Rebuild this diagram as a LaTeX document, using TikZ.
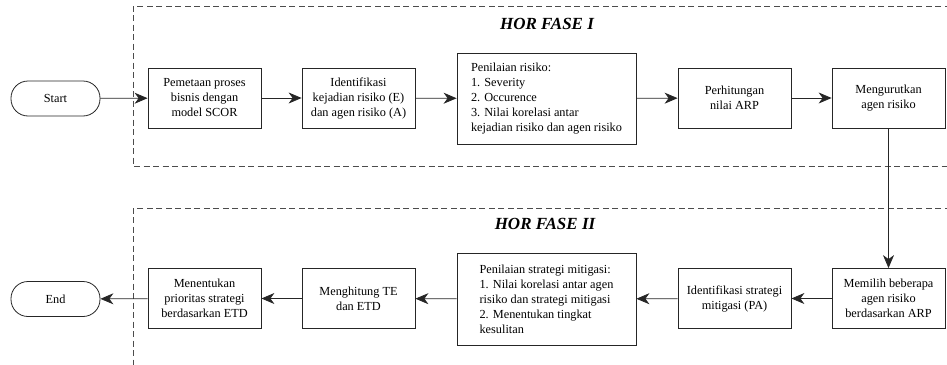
\documentclass[tikz,border=0pt]{standalone}
\usepackage{fontspec}
\setmainfont{Liberation Serif}
\usetikzlibrary{arrows.meta}
\begin{document}
\begin{tikzpicture}[x=1pt,y=-1pt,
  proc/.style={draw=black!85,line width=0.8pt,minimum width=113pt,minimum height=60pt,align=center,inner sep=2pt,font=\fontsize{12.3}{15}\selectfont},
  bigproc/.style={draw=black!85,line width=0.8pt,minimum width=179pt,minimum height=91pt,align=left,inner sep=2pt,font=\fontsize{12.3}{15}\selectfont},
  term/.style={draw=black!85,line width=0.8pt,minimum width=89pt,minimum height=35pt,rounded corners=17pt,font=\fontsize{12.3}{15}\selectfont},
  arr/.style={line width=0.8pt,draw=black!85,-{Stealth[length=13pt,width=11pt,inset=4pt]}},
  phase/.style={dash pattern=on 6pt off 3.5pt,line width=0.8pt,draw=black!70},
  title/.style={font=\fontsize{17}{20}\selectfont\bfseries\itshape}]
\useasboundingbox (0,0) rectangle (947,364);
\begin{scope}
\clip (0,0) rectangle (947,364);
\draw[phase] (960,6) -- (133,6) -- (133,166) -- (960,166);
\draw[phase] (960,208) -- (133,208) -- (133,380);
\end{scope}
\node[title] (t1) at (547,24) {HOR FASE I};
\node[title] (t2) at (545,224) {HOR FASE II};
\node[term] (start) at (55.5,98.5) {Start};
\node[proc] (b1) at (204.5,98) {Pemetaan proses\\bisnis dengan\\model SCOR};
\node[proc] (b2) at (358.5,98) {Identifikasi\\kejadian risiko (E)\\dan agen risiko (A)};
\node[bigproc] (b3) at (546.5,98.5) {Penilaian risiko:\\1. Severity\\2. Occurence\\3. Nilai korelasi antar\\kejadian risiko dan agen risiko};
\node[proc] (b4) at (734.5,98) {Perhitungan\\nilai ARP};
\node[proc] (b5) at (888.5,98) {Mengurutkan\\agen risiko};
\node[proc] (b6) at (888.5,298.5) {Memilih beberapa\\agen risiko\\berdasarkan ARP};
\node[proc] (b7) at (734.5,298.5) {Identifikasi strategi\\mitigasi (PA)};
\node[bigproc,minimum height=92pt] (b8) at (546.5,299) {Penilaian strategi mitigasi:\\1. Nilai korelasi antar agen\\risiko dan strategi mitigasi\\2. Menentukan tingkat\\kesulitan};
\node[proc] (b9) at (358.5,298.5) {Menghitung TE\\dan ETD};
\node[proc] (b10) at (204.5,298.5) {Menentukan\\prioritas strategi\\berdasarkan ETD};
\node[term] (end) at (55.5,299) {End};
\draw[arr] (start) -- (b1);
\draw[arr] (b1) -- (b2);
\draw[arr] (b2) -- (b3);
\draw[arr] (b3) -- (b4);
\draw[arr] (b4) -- (b5);
\draw[arr] (b5) -- (b6);
\draw[arr] (b6) -- (b7);
\draw[arr] (b7) -- (b8);
\draw[arr] (b8) -- (b9);
\draw[arr] (b9) -- (b10);
\draw[arr] (b10) -- (end);
\end{tikzpicture}
\end{document}
